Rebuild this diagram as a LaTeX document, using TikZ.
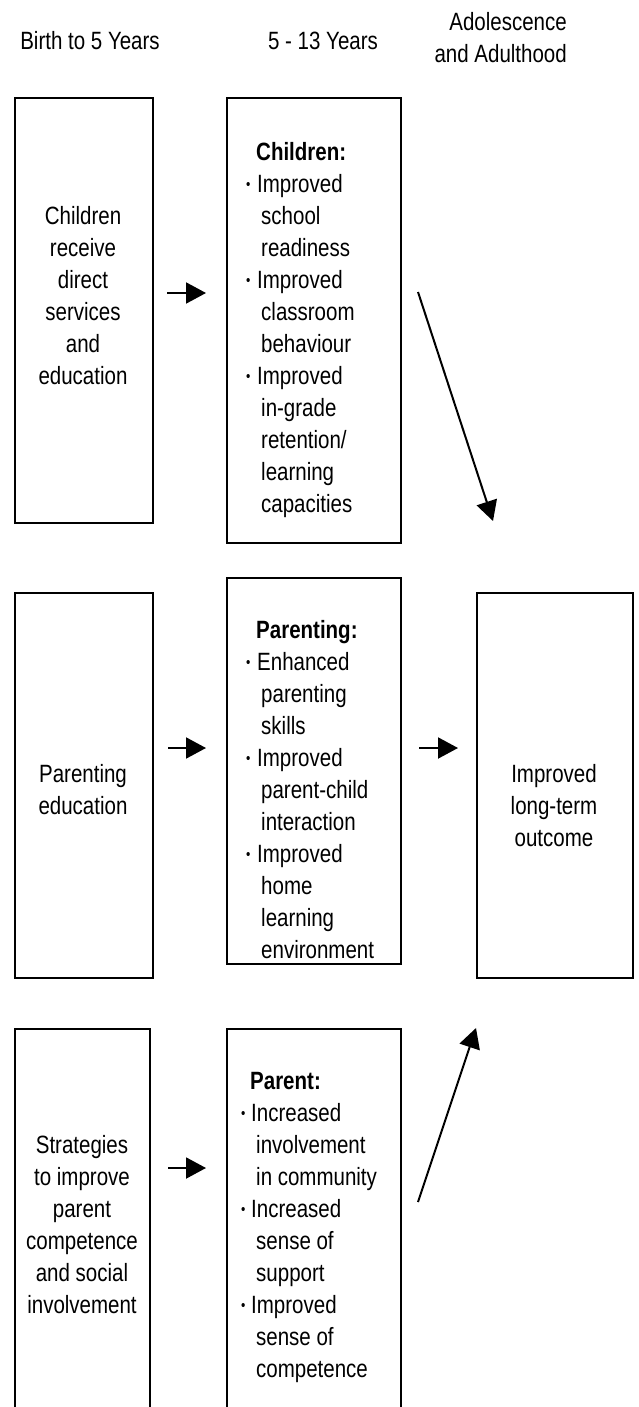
\documentclass[tikz,border=0pt]{standalone}
\usepackage{fontspec}
\setmainfont{Liberation Sans}[FakeStretch=0.82]
\usetikzlibrary{arrows.meta}

% strut fixing the height of the first line of a text block
\newcommand{\topstrut}{\rule{0pt}{20pt}}
% small list bullets
\newcommand{\bul}{\makebox[11pt][l]{\raisebox{3pt}{\fontsize{15}{15}\selectfont\textbullet}}}
\newcommand{\bulp}{\makebox[10pt][l]{\raisebox{3pt}{\fontsize{15}{15}\selectfont\textbullet}}}

\begin{document}
\begin{tikzpicture}[x=1pt, y=-1pt,
  box/.style={draw, line width=2.4pt, inner sep=0pt, anchor=north west},
  txt/.style={inner sep=0pt, font=\fontsize{25}{32}\selectfont},
  ctxt/.style={txt, anchor=north, align=center},
  ltxt/.style={txt, anchor=north west, align=left},
  head/.style={inner sep=0pt, font=\fontsize{25}{32}\selectfont},
  arr/.style={line width=2pt, -{Triangle[length=20pt, width=21pt]}}
]
\useasboundingbox (0,0) rectangle (639,1407);
\clip (0,0) rectangle (639,1407);

% column headings
\node[head, anchor=base] (h1) at (90,50) {Birth to 5 Years};
\node[head, anchor=base] (h2) at (323,50) {5 - 13 Years};
\node[head, anchor=north east, align=right] (h3) at (567,10) {\topstrut Adolescence\\and Adulthood};

% boxes
\node[box, minimum width=138pt, minimum height=425pt] (a1) at (14,97) {};
\node[box, minimum width=174pt, minimum height=445pt] (b1) at (226,97) {};
\node[box, minimum width=138pt, minimum height=385pt] (a2) at (14,592) {};
\node[box, minimum width=174pt, minimum height=386pt] (b2) at (226,577) {};
\node[box, minimum width=156pt, minimum height=385pt] (c2) at (476,592) {};
\node[box, minimum width=135pt, minimum height=420pt] (a3) at (14,1028) {};
\node[box, minimum width=174pt, minimum height=420pt] (b3) at (226,1028) {};

% box texts
\node[ctxt] (ta1) at (83,204) {\topstrut Children\\receive\\direct\\services\\and\\education};
\node[ltxt] (tb1) at (246,140) {\topstrut{\bfseries\hspace*{10pt}Children:}\\
  \bul Improved\\ \hspace*{15pt}school\\ \hspace*{15pt}readiness\\
  \bul Improved\\ \hspace*{15pt}classroom\\ \hspace*{15pt}behaviour\\
  \bul Improved\\ \hspace*{15pt}in-grade\\ \hspace*{15pt}retention/\\
  \hspace*{15pt}learning\\ \hspace*{15pt}capacities};

\node[ctxt] (ta2) at (83,762) {\topstrut Parenting\\education};
\node[ltxt] (tb2) at (246,618) {\topstrut{\bfseries\hspace*{10pt}Parenting:}\\
  \bul Enhanced\\ \hspace*{15pt}parenting\\ \hspace*{15pt}skills\\
  \bul Improved\\ \hspace*{15pt}parent-child\\ \hspace*{15pt}interaction\\
  \bul Improved\\ \hspace*{15pt}home\\ \hspace*{15pt}learning\\
  \hspace*{15pt}environment};
\node[ctxt] (tc2) at (554,762) {\topstrut Improved\\long-term\\outcome};

\node[ctxt] (ta3) at (82,1133) {\topstrut Strategies\\to improve\\parent\\competence\\and social\\involvement};
\node[ltxt] (tb3) at (241,1069) {\topstrut{\bfseries\hspace*{9pt}Parent:}\\
  \bulp Increased\\ \hspace*{15pt}involvement\\ \hspace*{15pt}in community\\
  \bulp Increased\\ \hspace*{15pt}sense of\\ \hspace*{15pt}support\\
  \bulp Improved\\ \hspace*{15pt}sense of\\ \hspace*{15pt}competence};

% arrow end points
\coordinate (p1s) at (167,293);  \coordinate (p1e) at (206,293);
\coordinate (p2s) at (168,748);  \coordinate (p2e) at (206,748);
\coordinate (p3s) at (419,748);  \coordinate (p3e) at (458,748);
\coordinate (p4s) at (168,1168); \coordinate (p4e) at (206,1168);
\coordinate (d1s) at (418,292);  \coordinate (d1e) at (493,521);
\coordinate (d2s) at (418,1202); \coordinate (d2e) at (476,1028);

% arrows
\draw[arr] (p1s) -- (p1e);
\draw[arr] (p2s) -- (p2e);
\draw[arr] (p3s) -- (p3e);
\draw[arr] (p4s) -- (p4e);
\draw[arr] (d1s) -- (d1e);
\draw[arr] (d2s) -- (d2e);
\end{tikzpicture}
\end{document}
